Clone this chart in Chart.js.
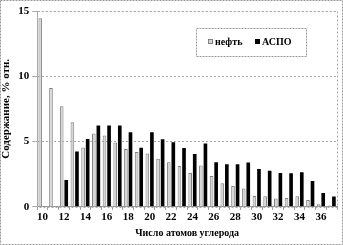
<!DOCTYPE html>
<html lang="ru">
<head>
<meta charset="UTF-8">
<title>Содержание н-алканов</title>
<script src="https://cdn.jsdelivr.net/npm/chart.js"></script>
<style>
  html, body { margin: 0; padding: 0; background: #fff; }
  #wrap { width: 343px; height: 245px; }
</style>
</head>
<body>
<div id="wrap"><canvas id="chart" width="343" height="245"></canvas></div>
<script>
// число атомов углерода
const carbons = ['10','11','12','13','14','15','16','17','18','19','20','21','22','23',
                 '24','25','26','27','28','29','30','31','32','33','34','35','36','37'];
// нефть, % отн.
const oil = [14.45, 9.1, 7.7, 6.48, 4.55, 5.62, 5.46, 4.92, 4.43, 4.2, 4.09, 3.68, 3.42, 3.13,
             2.59, 3.16, 2.35, 1.81, 1.6, 1.4, 0.82, 0.8, 0.64, 0.67, 0.8, 0.52, 0.2, 0.1];
// АСПО, % отн.
const aspo = [0, 0, 2.05, 4.24, 5.2, 6.22, 6.22, 6.22, 5.72, 4.53, 5.72, 5.18, 4.95, 4.5,
              4.04, 4.84, 3.42, 3.26, 3.26, 3.39, 2.9, 2.77, 2.59, 2.57, 2.64, 1.97, 1.06, 0.78];
const yTicks = [0, 5, 10, 15];

const serif = "'Liberation Serif', 'Times New Roman', serif";

// рамки: вокруг рисунка и вокруг области построения, плюс легенда в рамке
const frames = {
    id: 'frames',
    afterDraw(chart) {
        const c = chart.ctx, a = chart.chartArea;
        c.save();
        c.strokeStyle = '#999';
        c.lineWidth = 1;
        c.setLineDash([2, 1]);
        c.strokeRect(0.5, 0.5, chart.width - 1, chart.height - 1);
        c.setLineDash([2, 2]);
        c.strokeStyle = '#aaa';
        c.strokeRect(Math.round(a.left) + 0.5, Math.round(a.top) + 0.5,
                     Math.round(a.right - a.left), Math.round(a.bottom - a.top));

        // легенда
        const bx = 196, by = 28, bw = 110, bh = 28;
        c.fillStyle = '#fff';
        c.fillRect(bx, by, bw, bh);
        c.strokeStyle = '#999';
        c.setLineDash([2, 1]);
        c.strokeRect(bx + 0.5, by + 0.5, bw, bh);
        c.setLineDash([]);
        const ds = chart.data.datasets;
        const items = [[208, ds[0]], [255, ds[1]]];
        c.font = 'bold 10px ' + serif;
        c.textBaseline = 'middle';
        items.forEach(([x, d]) => {
            c.fillStyle = d.backgroundColor;
            c.fillRect(x, 39, 5, 5);
            c.strokeStyle = d.borderColor;
            c.strokeRect(x + 0.5, 39.5, 4, 4);
            c.fillStyle = '#000';
            c.fillText(d.label, x + 7, 42);
        });
        c.restore();
    }
};

new Chart(document.getElementById('chart'), {
    type: 'bar',
    data: {
        labels: carbons,
        datasets: [
            { label: 'нефть', data: oil, backgroundColor: '#d6d6d6', borderColor: '#808080', borderWidth: 1 },
            { label: 'АСПО', data: aspo, backgroundColor: '#000', borderColor: '#000', borderWidth: 0 }
        ]
    },
    options: {
        responsive: false,
        animation: false,
        layout: { padding: { left: 0, right: 6, top: 11, bottom: 6 } },
        datasets: { bar: { categoryPercentage: 0.85, barPercentage: 0.8 } },
        plugins: { legend: { display: false }, tooltip: { enabled: false } },
        scales: {
            x: {
                ticks: {
                    autoSkip: false, maxRotation: 0, color: '#000', padding: 1,
                    font: { family: serif, size: 11, weight: 'bold' },
                    callback: (v, i) => (i % 2 === 0 ? carbons[i] : '')
                },
                grid: { offset: true, drawOnChartArea: false, tickLength: 3, color: '#999' },
                border: { color: '#999' },
                title: {
                    display: true, text: 'Число атомов углерода', color: '#000', padding: { top: 2, bottom: 0 },
                    font: { family: serif, size: 10, weight: 'bold' }
                }
            },
            y: {
                min: 0, max: 15,
                afterBuildTicks: s => { s.ticks = yTicks.map(v => ({ value: v })); },
                ticks: { color: '#000', padding: 3, font: { family: serif, size: 11, weight: 'bold' } },
                grid: { color: '#aaa', tickLength: 5 },
                border: { color: '#aaa', dash: [2, 2] },
                title: {
                    display: true, text: 'Содержание, % отн.', color: '#000', padding: { top: 0, bottom: 2 },
                    font: { family: serif, size: 11, weight: 'bold' }
                }
            }
        }
    },
    plugins: [frames]
});
</script>
</body>
</html>
